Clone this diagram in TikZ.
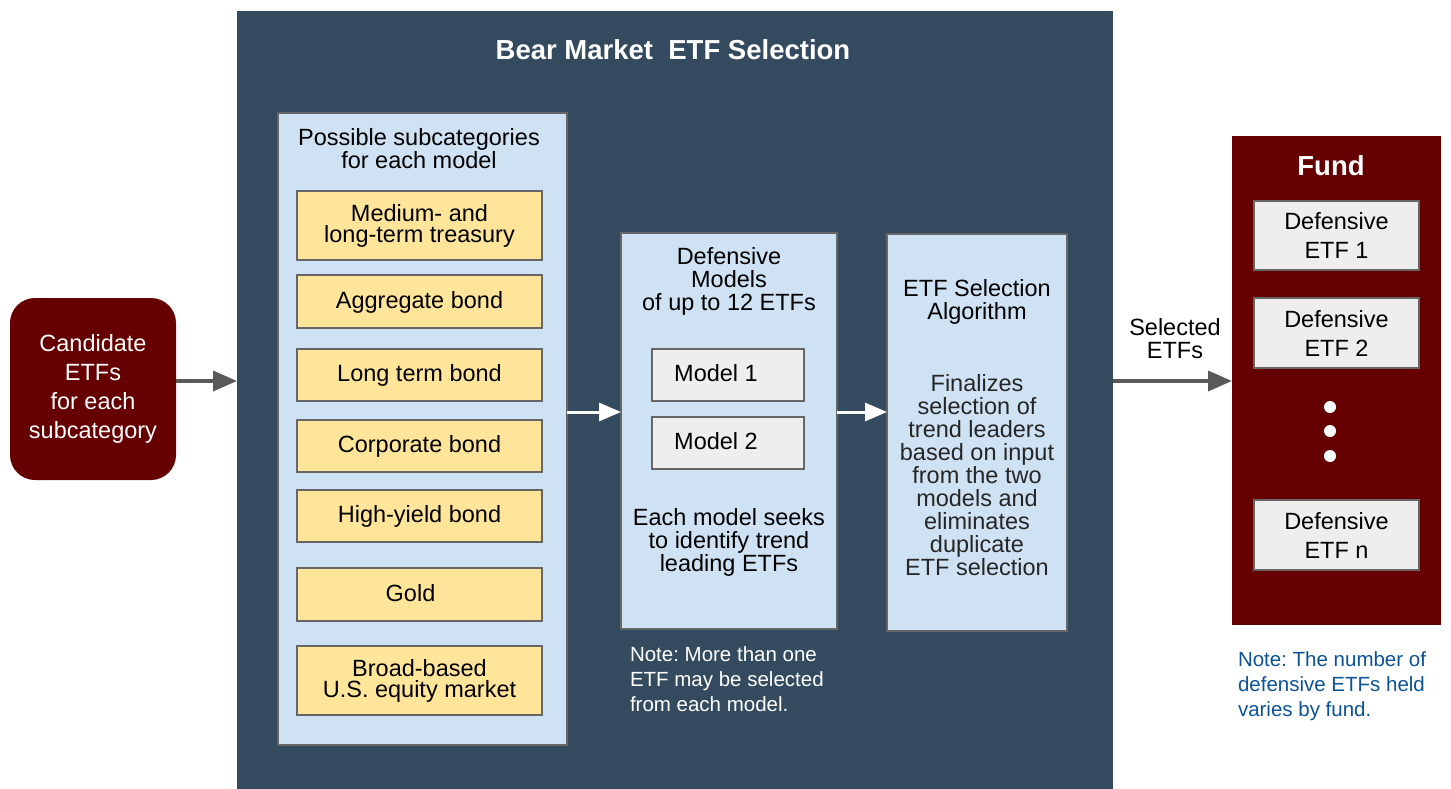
\documentclass[tikz,border=0pt]{standalone}
\usepackage{fontspec}
\setmainfont{Liberation Sans}
\usetikzlibrary{arrows.meta}
\frenchspacing

\definecolor{panel}{HTML}{344A5E}
\definecolor{paleblue}{HTML}{CFE2F3}
\definecolor{wheat}{HTML}{FFE599}
\definecolor{maroon}{HTML}{660000}
\definecolor{lightgrey}{HTML}{EEEEEE}
\definecolor{arrowgrey}{HTML}{595959}
\definecolor{noteblue}{HTML}{0B5394}
\definecolor{edgegrey}{HTML}{666666}

\newcommand\fsz[2]{\fontsize{#1}{#2}\selectfont}

\begin{document}
\begin{tikzpicture}[x=1pt,y=-1pt,
  every node/.style={inner sep=0pt, outer sep=0pt},
  frame/.style={draw=edgegrey, line width=1.5pt},
  palebox/.style={frame, fill=paleblue},
  catbox/.style={frame, fill=wheat, minimum width=245pt, align=center, font=\fsz{23.5}{21}},
  onerow/.style={text height=17pt, text depth=4pt},
  modelbox/.style={frame, fill=lightgrey, minimum width=152pt, minimum height=52pt, font=\fsz{23.5}{23}, onerow},
  etfbox/.style={frame, fill=lightgrey, minimum width=165pt, minimum height=70pt, align=center, font=\fsz{23.5}{29}},
  bodytext/.style={align=center, font=\fsz{23.5}{23}},
  boldtitle/.style={text=white, font=\bfseries\fsz{27.5}{30}},
  notetext/.style={align=left, font=\fsz{20.5}{25}},
  greyarrow/.style={draw=arrowgrey, line width=3.5pt, -{Triangle[length=24pt,width=20pt]}},
  whitearrow/.style={draw=white, line width=3pt, -{Triangle[length=22pt,width=18pt]}}
]
\useasboundingbox (0,0) rectangle (1451,789);

% main selection panel
\node[fill=panel, minimum width=876pt, minimum height=778pt] (bear) at (675,400) {};
\node[boldtitle] (beartitle) at (673,50) {Bear Market\ \ ETF Selection};

% subcategory column
\node[palebox, minimum width=289pt, minimum height=632pt] (sub) at (422.5,429) {};
\node[bodytext] (subtitle) at (419,149) {Possible subcategories\\for each model};
\node[catbox, minimum height=69pt] (treas) at (419.5,225.5) {Medium- and\\long-term treasury};
\node[catbox, minimum height=53pt, onerow] (aggr) at (419.5,301.5) {Aggregate bond};
\node[catbox, minimum height=52pt, onerow] (longb) at (419.5,375) {Long term bond};
\node[catbox, minimum height=52pt, onerow] (corp) at (419.5,446) {Corporate bond};
\node[catbox, minimum height=52pt, onerow] (hiyld) at (419.5,516) {High-yield bond};
\node[catbox, minimum height=53pt, onerow] (gold) at (419.5,594.5) {Gold\kern18pt};
\node[catbox, minimum height=69pt, font=\fsz{23.5}{21}] (broad) at (419.5,680.5) {Broad-based\\U.S. equity market};

% defensive models column
\node[palebox, minimum width=216pt, minimum height=396pt] (defm) at (729,431) {};
\node[bodytext] (defmtitle) at (729,281) {Defensive\\Models\\of up to 12 ETFs};
\node[modelbox] (model1) at (728,375) {Model 1\kern24pt};
\node[modelbox] (model2) at (728,443) {Model 2\kern24pt};
\node[bodytext] (seek) at (729,542) {Each model seeks\\to identify trend\\leading ETFs};
\node[notetext, text=white, anchor=west] (notemodels) at (630,679)
  {Note: More than one\\ETF may be selected\\from each model.};

% selection algorithm column
\node[palebox, minimum width=180pt, minimum height=397pt] (algo) at (977,432.5) {};
\node[bodytext] (algotitle) at (977,302) {ETF Selection\\Algorithm};
\node[bodytext, text=black!85] (algobody) at (977,475)
  {Finalizes\\selection of\\trend leaders\\based on input\\from the two\\models and\\eliminates\\duplicate\\ETF selection};

% candidate input
\node[fill=maroon, rounded corners=25pt, minimum width=166pt, minimum height=182pt,
  text=white, align=center, font=\fsz{23.5}{29}] (cand) at (93,389)
  {Candidate\\ETFs\\for each\\subcategory};

% fund output
\node[fill=maroon, minimum width=209pt, minimum height=489pt] (fund) at (1336.5,380.5) {};
\node[boldtitle] (fundtitle) at (1331,166) {Fund};
\node[etfbox, minimum height=69pt] (etf1) at (1336.5,235.5) {Defensive\\ETF 1};
\node[etfbox] (etf2) at (1336.5,333) {Defensive\\ETF 2};
\node[etfbox] (etfn) at (1336.5,535) {Defensive\\ETF n};
\node[circle, fill=white, minimum size=12pt] (dot1) at (1330,407) {};
\node[circle, fill=white, minimum size=12pt] (dot2) at (1330,431) {};
\node[circle, fill=white, minimum size=12pt] (dot3) at (1330,456) {};
\node[notetext, text=noteblue, anchor=west] (notefund) at (1238,686)
  {Note: The number of\\defensive ETFs held\\varies by fund.};

% connectors
\draw[greyarrow] (cand.east |- 0,381) -- (bear.west |- 0,381);
\draw[whitearrow] (sub.east |- 0,412) -- (defm.west |- 0,412);
\draw[whitearrow] (defm.east |- 0,412) -- (algo.west |- 0,412);
\draw[greyarrow] (bear.east |- 0,381) -- (fund.west |- 0,381);
\node[bodytext] (sellabel) at (1175,339) {Selected\\ETFs};
\end{tikzpicture}
\end{document}
